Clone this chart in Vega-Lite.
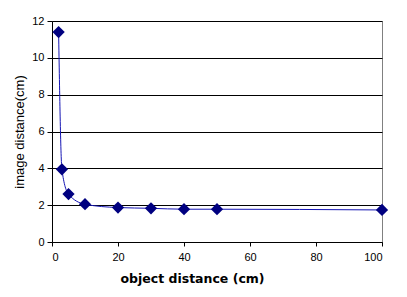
{
  "$schema": "https://vega.github.io/schema/vega-lite/v6.json",
  "width": 330,
  "height": 221,
  "autosize": {"type": "none"},
  "padding": {"left": 52, "top": 21, "right": 25, "bottom": 55},
  "background": "white",
  "config": {
    "view": {"stroke": "#808080", "strokeWidth": 1},
    "axis": {"labelFont": "Liberation Sans", "labelFontSize": 11, "labelColor": "black", "domainColor": "black", "tickColor": "black"}
  },
  "data": {"values": [
    {"u": 2, "v": 11.4},
    {"u": 3, "v": 3.95},
    {"u": 5, "v": 2.6},
    {"u": 10, "v": 2.05},
    {"u": 20, "v": 1.87},
    {"u": 30, "v": 1.83},
    {"u": 40, "v": 1.78},
    {"u": 50, "v": 1.78},
    {"u": 100, "v": 1.74}
  ]},
  "encoding": {
    "x": {"field": "u", "type": "quantitative", "scale": {"domain": [0, 100], "nice": false},
      "axis": {"values": [0, 20, 40, 60, 80, 100], "grid": false, "tickSize": 4, "labelPadding": 5, "title": "object distance (cm)",
        "titleFont": "DejaVu Sans", "titleFontWeight": "bold", "titleFontSize": 12.5, "titleColor": "black", "titleX": 140, "titleY": 30, "titleBaseline": "top"}},
    "y": {"field": "v", "type": "quantitative", "scale": {"domain": [0, 12], "nice": false},
      "axis": {"values": [0, 2, 4, 6, 8, 10, 12], "grid": true, "gridColor": "black", "gridOpacity": 1, "tickSize": 5, "labelPadding": 3,
        "title": "image distance(cm)", "titleFont": "Liberation Sans", "titleFontWeight": "normal", "titleFontSize": 13, "titleColor": "black", "titlePadding": 5}}
  },
  "layer": [
    {"mark": {"type": "line", "interpolate": "monotone", "color": "#1414b4", "strokeWidth": 1}},
    {"mark": {"type": "point", "shape": "diamond", "filled": true, "size": 150, "color": "#000080", "opacity": 1}}
  ]
}
